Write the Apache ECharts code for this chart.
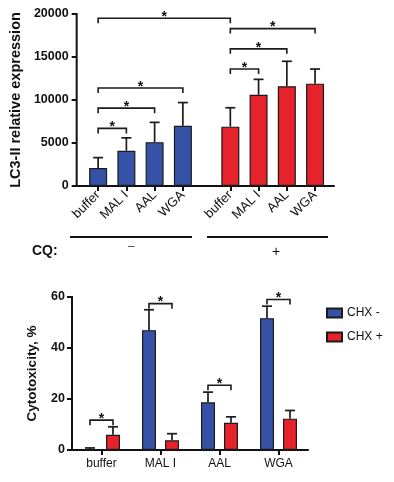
<!DOCTYPE html>
<html><head><meta charset="utf-8">
<script src="https://cdn.jsdelivr.net/npm/echarts@6/dist/echarts.min.js"></script>
<style>html,body{margin:0;padding:0;background:#fff}#c{width:394px;height:482px}</style>
</head><body><div id="c"></div>
<script>
// ---- Top chart data (LC3-II) ----
const topCats = ['buffer', 'MAL I', 'AAL', 'WGA', 'buffer', 'MAL I', 'AAL', 'WGA'];
const topMean = [2100, 4100, 5100, 7000, 6900, 10600, 11600, 11900];
const topUpper = [3300, 5600, 7400, 9700, 9100, 12400, 14500, 13600];
const topSig = [[0, 4, 19500], [0, 1, 6700], [0, 2, 9050], [0, 3, 11400], [4, 5, 13600], [4, 6, 15950], [4, 7, 18300]];
const cqLabels = ['CQ:', '\u2013', '+'];
const topTicks = [0, 5000, 10000, 15000, 20000];

// ---- Bottom chart data (Cytotoxicity) ----
const botCats = ['buffer', 'MAL I', 'AAL', 'WGA'];
const chxMinus = [0.3, 47, 18.7, 51.7];
const chxMinusUpper = [0.8, 55, 22.7, 56.4];
const chxPlus = [6, 3.8, 10.7, 12.3];
const chxPlusUpper = [9.1, 6.4, 13, 15.5];
const botSig = [11.7, 57.4, 25.4, 59];
const botTicks = [0, 20, 40, 60];

const BLUE = '#3552a6', RED = '#e6222a', EDGE = '#1b1b1b', INK = '#111';
const FONT = 'Liberation Sans, Arial, sans-serif';
const groupGap = 0.68;
const pos = i => i + (i >= 4 ? groupGap : 0);
const topPos = topCats.map((c, i) => pos(i));
const barWBot = 14, gapBot = 9, offBot = (barWBot + gapBot) / 2;

function errItem(params, api, dx) {
  const p0 = api.coord([api.value(0), api.value(1)]);
  const p1 = api.coord([api.value(0), api.value(2)]);
  const x = p0[0] + (dx || 0);
  return {
    type: 'group', children: [
      { type: 'line', shape: { x1: x, y1: p0[1], x2: x, y2: p1[1] }, style: { stroke: EDGE, lineWidth: 1.7 } },
      { type: 'line', shape: { x1: x - 5, y1: p1[1], x2: x + 5, y2: p1[1] }, style: { stroke: EDGE, lineWidth: 1.7 } }
    ]
  };
}
function bracket(xa, xb, y) {
  return {
    type: 'group', children: [
      { type: 'polyline', shape: { points: [[xa, y + 5], [xa, y], [xb, y], [xb, y + 5]] }, style: { stroke: EDGE, lineWidth: 1.6, fill: null } },
      { type: 'text', style: { text: '*', x: (xa + xb) / 2, y: y + 6, align: 'center', verticalAlign: 'bottom', fontSize: 14, fontWeight: 'bold', fill: INK, fontFamily: FONT } }
    ]
  };
}
// y-axis spine + ticks, drawn through the grid's own coordinate system
function spineItem(params, api) {
  const cs = params.coordSys;
  const y = api.coord([api.value(0), api.value(1)])[1];
  const children = [
    { type: 'line', shape: { x1: cs.x - 5, y1: y, x2: cs.x, y2: y }, style: { stroke: INK, lineWidth: 2 } }
  ];
  if (params.dataIndex === 0) {
    children.push({ type: 'line', shape: { x1: cs.x, y1: cs.y - 1, x2: cs.x, y2: cs.y + cs.height + 1 }, style: { stroke: INK, lineWidth: 2 } });
  }
  return { type: 'group', children };
}
const mkLine = () => ({ show: true, lineStyle: { color: INK, width: 2 } });
const mkTick = () => ({ show: true, length: 5, lineStyle: { color: INK, width: 2 } });

const chart = echarts.init(document.getElementById('c'), null, { renderer: 'canvas' });
chart.setOption({
  animation: false,
  grid: [
    { left: 73, top: 14, width: 261, height: 172 },
    { left: 72, top: 297, width: 236, height: 153 }
  ],
  legend: {
    orient: 'vertical', left: 321, top: 302, itemWidth: 15, itemHeight: 9, itemGap: 12,
    icon: 'rect',
    textStyle: { fontSize: 12, color: INK, fontFamily: FONT },
    data: ['CHX -', 'CHX +']
  },
  xAxis: [
    {
      gridIndex: 0, type: 'value', min: -0.76, max: 8.35,
      splitLine: { show: false }, axisLine: mkLine(),
      axisTick: Object.assign(mkTick(), { customValues: topPos }),
      axisLabel: {
        customValues: topPos, rotate: 45, fontSize: 13, color: INK, margin: 7, fontFamily: FONT,
        formatter: v => { const k = topPos.findIndex(p => Math.abs(p - v) < 1e-6); return k >= 0 ? topCats[k] : ''; }
      }
    },
    {
      gridIndex: 1, type: 'category', data: botCats, axisLine: mkLine(),
      axisTick: Object.assign(mkTick(), { alignWithLabel: true }),
      axisLabel: { fontSize: 12, color: INK, margin: 8, fontFamily: FONT }
    }
  ],
  yAxis: [
    {
      gridIndex: 0, type: 'value', min: topTicks[0], max: topTicks[topTicks.length - 1], interval: 5000,
      name: 'LC3-II relative expression', nameLocation: 'middle', nameGap: 52,
      nameTextStyle: { fontSize: 14.5, fontWeight: 'bold', color: INK, fontFamily: FONT },
      splitLine: { show: false }, axisLine: { show: false, onZero: false }, axisTick: { show: false },
      axisLabel: { fontSize: 12.5, fontWeight: 'bold', color: INK, margin: 8, fontFamily: FONT, formatter: v => String(v) }
    },
    {
      gridIndex: 1, type: 'value', min: botTicks[0], max: botTicks[botTicks.length - 1], interval: 20,
      name: 'Cytotoxicity, %', nameLocation: 'middle', nameGap: 33,
      nameTextStyle: { fontSize: 13.5, fontWeight: 'bold', color: INK, fontFamily: FONT },
      splitLine: { show: false }, axisLine: { show: false }, axisTick: { show: false },
      axisLabel: { fontSize: 12.5, fontWeight: 'bold', color: INK, margin: 7, fontFamily: FONT }
    }
  ],
  series: [
    {
      type: 'bar', xAxisIndex: 0, yAxisIndex: 0, barWidth: 18,
      data: topMean.map((v, i) => [topPos[i], v]),
      itemStyle: { color: p => (p.dataIndex < 4 ? BLUE : RED), borderColor: EDGE, borderWidth: 1.2 }
    },
    {
      type: 'custom', xAxisIndex: 0, yAxisIndex: 0, clip: false, z: 3,
      data: topMean.map((v, i) => [topPos[i], v, topUpper[i]]),
      encode: { x: 0, y: [1, 2] },
      renderItem: (params, api) => errItem(params, api, 0)
    },
    {
      type: 'custom', xAxisIndex: 0, yAxisIndex: 0, clip: false, z: 4,
      data: topSig.map(s => [topPos[s[0]], topPos[s[1]], s[2]]),
      encode: { x: [0, 1], y: 2 },
      renderItem: (params, api) => {
        const a = api.coord([api.value(0), api.value(2)]);
        const b = api.coord([api.value(1), api.value(2)]);
        return bracket(a[0], b[0], a[1]);
      }
    },
    {
      type: 'custom', xAxisIndex: 0, yAxisIndex: 0, clip: false, z: 5, silent: true,
      data: topTicks.map(v => [0, v]),
      encode: { x: 0, y: 1 },
      renderItem: spineItem
    },
    {
      name: 'CHX -', type: 'bar', xAxisIndex: 1, yAxisIndex: 1, barWidth: barWBot, barGap: (gapBot / barWBot * 100) + '%',
      data: chxMinus, itemStyle: { color: BLUE, borderColor: EDGE, borderWidth: 1.2 }
    },
    {
      name: 'CHX +', type: 'bar', xAxisIndex: 1, yAxisIndex: 1, barWidth: barWBot,
      data: chxPlus, itemStyle: { color: RED, borderColor: EDGE, borderWidth: 1.2 }
    },
    {
      type: 'custom', xAxisIndex: 1, yAxisIndex: 1, clip: false, z: 3,
      data: chxMinus.map((v, i) => [i, v, chxMinusUpper[i]]),
      encode: { x: 0, y: [1, 2] },
      renderItem: (params, api) => errItem(params, api, -offBot)
    },
    {
      type: 'custom', xAxisIndex: 1, yAxisIndex: 1, clip: false, z: 3,
      data: chxPlus.map((v, i) => [i, v, chxPlusUpper[i]]),
      encode: { x: 0, y: [1, 2] },
      renderItem: (params, api) => errItem(params, api, offBot)
    },
    {
      type: 'custom', xAxisIndex: 1, yAxisIndex: 1, clip: false, z: 4,
      data: botSig.map((y, i) => [i, y]),
      encode: { x: 0, y: 1 },
      renderItem: (params, api) => {
        const c = api.coord([api.value(0), api.value(1)]);
        return bracket(c[0] - offBot, c[0] + offBot, c[1]);
      }
    },
    {
      type: 'custom', xAxisIndex: 1, yAxisIndex: 1, clip: false, z: 5, silent: true,
      data: botTicks.map(v => [0, v]),
      encode: { x: 0, y: 1 },
      renderItem: spineItem
    }
  ],
  graphic: [
    { type: 'line', shape: { x1: 70, y1: 237, x2: 192, y2: 237 }, style: { stroke: INK, lineWidth: 2 } },
    { type: 'line', shape: { x1: 207, y1: 237, x2: 328, y2: 237 }, style: { stroke: INK, lineWidth: 2 } },
    { type: 'text', left: 32, top: 244, style: { text: cqLabels[0], fontSize: 14, fontWeight: 'bold', fill: INK, fontFamily: FONT } },
    { type: 'text', left: 128, top: 241, style: { text: cqLabels[1], fontSize: 12, fill: '#444', fontFamily: FONT } },
    { type: 'text', left: 272, top: 245, style: { text: cqLabels[2], fontSize: 14, fill: INK, fontFamily: FONT } }
  ]
});
</script></body></html>
